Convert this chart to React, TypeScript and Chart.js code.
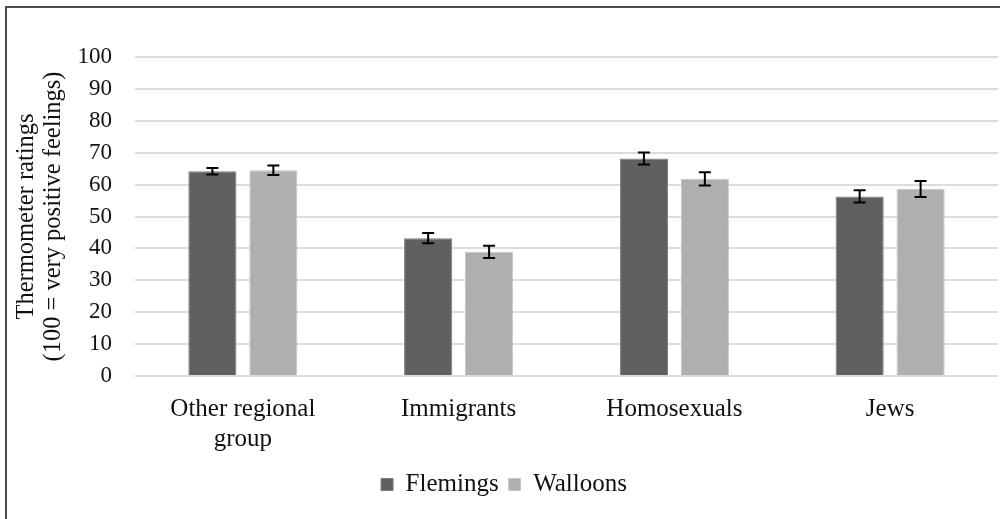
import React, { useEffect, useRef } from "react";
import { Chart, registerables } from "chart.js";

Chart.register(...registerables);

const categories: (string | string[])[] = [["Other regional", "group"], "Immigrants", "Homosexuals", "Jews"];
const seriesNames = ["Flemings", "Walloons"];
const flemingsValues = [64.2, 43.2, 68.2, 56.3];
const walloonsValues = [64.5, 38.9, 61.8, 58.6];
const flemingsErrors = [1.0, 1.6, 1.9, 1.9];
const walloonsErrors = [1.5, 1.9, 2.1, 2.5];
const yTicks = [0, 10, 20, 30, 40, 50, 60, 70, 80, 90, 100];

const FONT = "'Liberation Serif', 'Times New Roman', serif";

const errorBarPlugin = {
  id: "errorBars",
  afterDatasetsDraw(chart: any) {
    const ctx = chart.ctx;
    const yScale = chart.scales.y;
    const errs = [flemingsErrors, walloonsErrors];
    chart.data.datasets.forEach((ds: any, di: number) => {
      const meta = chart.getDatasetMeta(di);
      meta.data.forEach((bar: any, i: number) => {
        const v = ds.data[i];
        const e = errs[di][i];
        const x = bar.x;
        const yTop = yScale.getPixelForValue(v + e);
        const yBot = yScale.getPixelForValue(v - e);
        ctx.save();
        ctx.strokeStyle = "#000";
        ctx.lineWidth = 2;
        ctx.beginPath();
        ctx.moveTo(x, yTop);
        ctx.lineTo(x, yBot);
        ctx.moveTo(x - 6, yTop);
        ctx.lineTo(x + 6, yTop);
        ctx.moveTo(x - 6, yBot);
        ctx.lineTo(x + 6, yBot);
        ctx.stroke();
        ctx.restore();
      });
    });
  },
};

const framePlugin = {
  id: "frame",
  beforeDraw(chart: any) {
    const ctx = chart.ctx;
    ctx.save();
    ctx.fillStyle = "#fff";
    ctx.fillRect(0, 0, chart.width, chart.height);
    ctx.strokeStyle = "#4a4a4a";
    ctx.lineWidth = 2;
    ctx.beginPath();
    ctx.moveTo(6, chart.height);
    ctx.lineTo(6, 7);
    ctx.lineTo(chart.width, 7);
    ctx.stroke();
    ctx.restore();
  },
};

export default function App() {
  const ref = useRef<HTMLCanvasElement>(null);
  useEffect(() => {
    if (!ref.current) return;
    const chart = new Chart(ref.current, {
      type: "bar",
      data: {
        labels: categories,
        datasets: [
          {
            label: seriesNames[0],
            data: flemingsValues,
            backgroundColor: "#5f5f5f",
            borderColor: "#7a7a7a",
            borderWidth: 1,
          },
          {
            label: seriesNames[1],
            data: walloonsValues,
            backgroundColor: "#afafaf",
            borderColor: "#c6c6c6",
            borderWidth: 1,
          },
        ],
      },
      options: {
        responsive: false,
        animation: false,
        layout: { padding: { left: 10, top: 57, right: 2, bottom: 12 } },
        datasets: { bar: { categoryPercentage: 0.565, barPercentage: 0.79 } },
        scales: {
          x: {
            grid: { display: false },
            border: { display: false },
            ticks: {
              color: "#111",
              font: { family: FONT, size: 25, lineHeight: 1.22 },
              padding: 10,
              maxRotation: 0,
              autoSkip: false,
            },
            afterFit(scale: any) {
              scale.height = 86;
            },
          },
          y: {
            min: 0,
            max: 100,
            afterBuildTicks(scale: any) {
              scale.ticks = yTicks.map((v) => ({ value: v }));
            },
            grid: { color: "#dcdcdc", lineWidth: 2, drawTicks: false },
            border: { display: false },
            ticks: {
              color: "#111",
              font: { family: FONT, size: 23 },
              padding: 23,
            },
            title: {
              display: true,
              text: ["Thermometer ratings", "(100 = very positive feelings)"],
              color: "#111",
              font: { family: FONT, size: 24.5, lineHeight: 1.1 },
              padding: { top: 3, bottom: 0 },
            },
            afterFit(scale: any) {
              scale.width = 125;
            },
          },
        },
        plugins: {
          legend: {
            position: "bottom",
            labels: {
              boxWidth: 12,
              boxHeight: 12,
              color: "#111",
              font: { family: FONT, size: 25 },
              padding: 10,
            },
          },
          tooltip: { enabled: false },
        },
      },
      plugins: [framePlugin, errorBarPlugin],
    });
    return () => chart.destroy();
  }, []);
  return (
    <div style={{ position: "absolute", left: 0, top: 0, width: 1000, height: 519 }}>
      <canvas ref={ref} width={1000} height={519} />
    </div>
  );
}
